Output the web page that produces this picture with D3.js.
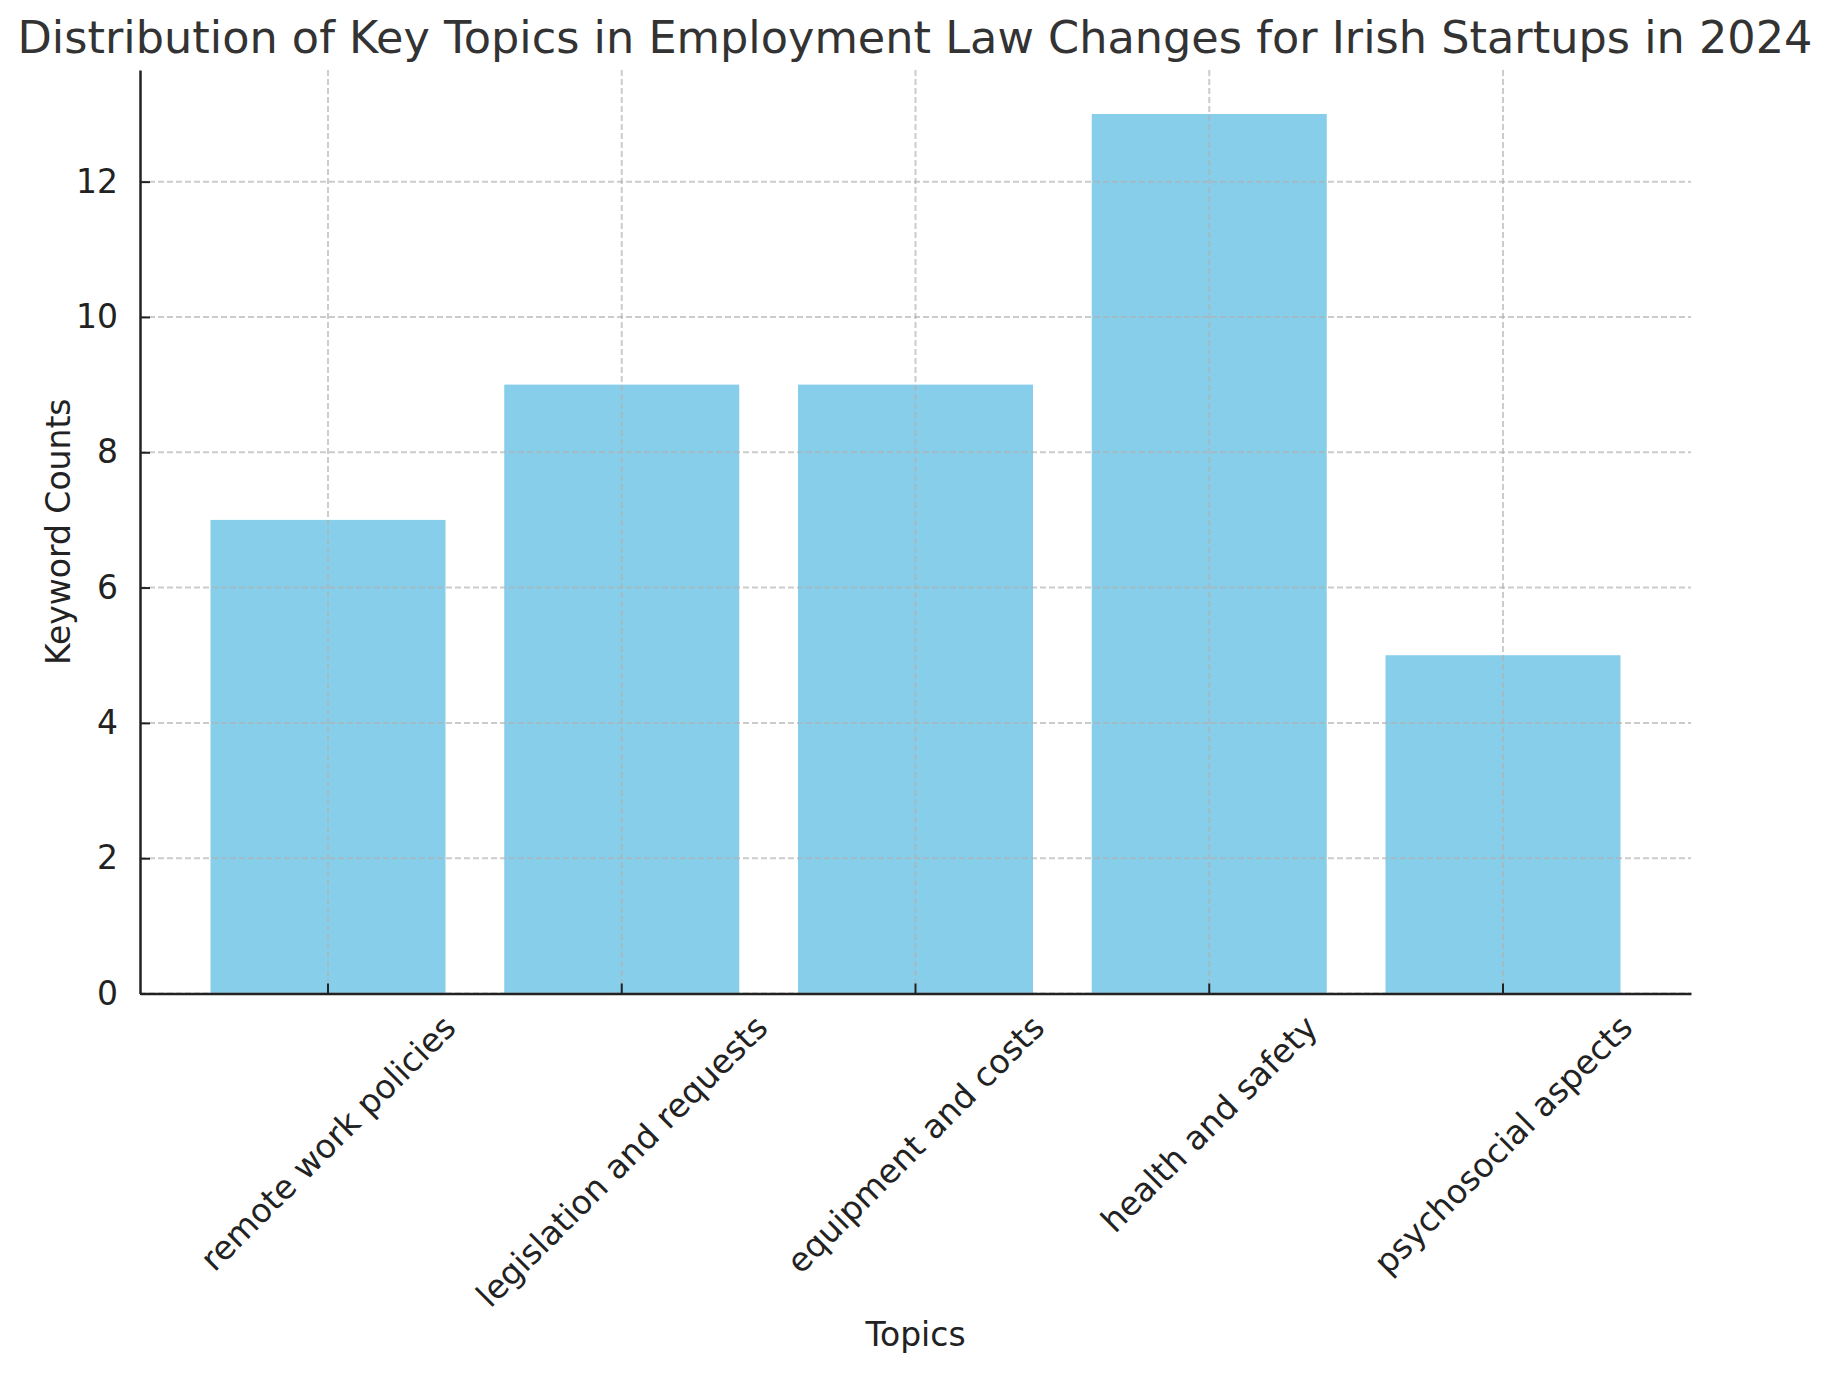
<!DOCTYPE html>
<html>
<head>
<meta charset="utf-8">
<script src="https://cdn.jsdelivr.net/npm/d3@7"></script>
<style>
  html, body { margin: 0; padding: 0; background: #ffffff; }
  svg { display: block; }
  text { font-family: "DejaVu Sans", sans-serif; }
</style>
</head>
<body>
<svg id="chart" width="1830" height="1374"></svg>
<script>
const categories = ["remote work policies", "legislation and requests", "equipment and costs", "health and safety", "psychosocial aspects"];
const keywordCounts = [7, 9, 9, 13, 5];
const yTicks = [0, 2, 4, 6, 8, 10, 12];
const titleText = "Distribution of Key Topics in Employment Law Changes for Irish Startups in 2024";
const xLabel = "Topics";
const yLabel = "Keyword Counts";

const W = 1830, H = 1374;
const plot = { left: 140, right: 1691, top: 70, bottom: 993.5 };

const svg = d3.select("#chart");

const x = d3.scaleBand()
  .domain(categories)
  .range([plot.left, plot.right])
  .paddingInner(0.2)
  .paddingOuter(0.24);

const yMax = d3.max(keywordCounts) * 1.05;
const y = d3.scaleLinear().domain([0, yMax]).range([plot.bottom, plot.top]);

// bars
svg.append("g").selectAll("rect")
  .data(categories)
  .join("rect")
  .attr("x", d => x(d))
  .attr("width", x.bandwidth())
  .attr("y", (d, i) => y(keywordCounts[i]))
  .attr("height", (d, i) => y(0) - y(keywordCounts[i]))
  .attr("fill", "#87CEEB");

// grid (drawn above bars)
const grid = svg.append("g")
  .attr("stroke", "#b0b0b0")
  .attr("stroke-opacity", 0.65)
  .attr("stroke-width", 2)
  .attr("stroke-dasharray", "6,3");
grid.selectAll("line.h")
  .data(yTicks)
  .join("line")
  .attr("class", "h")
  .attr("x1", plot.left).attr("x2", plot.right)
  .attr("y1", d => y(d)).attr("y2", d => y(d));
grid.selectAll("line.v")
  .data(categories)
  .join("line")
  .attr("class", "v")
  .attr("x1", d => x(d) + x.bandwidth() / 2).attr("x2", d => x(d) + x.bandwidth() / 2)
  .attr("y1", plot.top).attr("y2", plot.bottom);

// y axis
const yAxis = d3.axisLeft(y).tickValues(yTicks).tickSizeInner(-10).tickSizeOuter(0).tickPadding(22);
const gy = svg.append("g").attr("transform", `translate(${plot.left},0)`).call(yAxis);
gy.select(".domain").attr("stroke", "#222").attr("stroke-width", 2.5);
gy.selectAll(".tick line").attr("stroke", "#222").attr("stroke-width", 2);
gy.selectAll(".tick text")
  .attr("fill", "#222")
  .attr("font-size", 33)
  .attr("font-family", "DejaVu Sans, sans-serif");

// x axis
const xAxis = d3.axisBottom(x).tickSizeInner(-10).tickSizeOuter(0).tickFormat("");
const gx = svg.append("g").attr("transform", `translate(0,${plot.bottom})`).call(xAxis);
gx.select(".domain").attr("stroke", "#222").attr("stroke-width", 2.5);
gx.selectAll(".tick line").attr("stroke", "#222").attr("stroke-width", 2);

// rotated x tick labels (centered on tick, top aligned)
const labelTop = 1011;
const fs = 33;
const lab = svg.append("g").selectAll("text")
  .data(categories)
  .join("text")
  .attr("font-size", fs)
  .attr("fill", "#222")
  .attr("text-anchor", "middle")
  .attr("dominant-baseline", "central")
  .text(d => d);
lab.each(function(d) {
  const w = this.getComputedTextLength();
  const h = fs * 0.9;
  const ext = (w + h) * Math.SQRT1_2;
  const cx = x(d) + x.bandwidth() / 2;
  const cy = labelTop + ext / 2;
  d3.select(this).attr("transform", `translate(${cx},${cy}) rotate(-45)`);
});

// axis labels
svg.append("text")
  .attr("x", (plot.left + plot.right) / 2)
  .attr("y", 1346)
  .attr("text-anchor", "middle")
  .attr("font-size", 33)
  .attr("fill", "#222")
  .text(xLabel);

svg.append("text")
  .attr("transform", `translate(70,${(plot.top + plot.bottom) / 2}) rotate(-90)`)
  .attr("text-anchor", "middle")
  .attr("font-size", 33)
  .attr("fill", "#222")
  .text(yLabel);

// title
svg.append("text")
  .attr("x", W / 2)
  .attr("y", 53)
  .attr("text-anchor", "middle")
  .attr("font-size", 44.6)
  .attr("fill", "#333")
  .text(titleText);
</script>
</body>
</html>
